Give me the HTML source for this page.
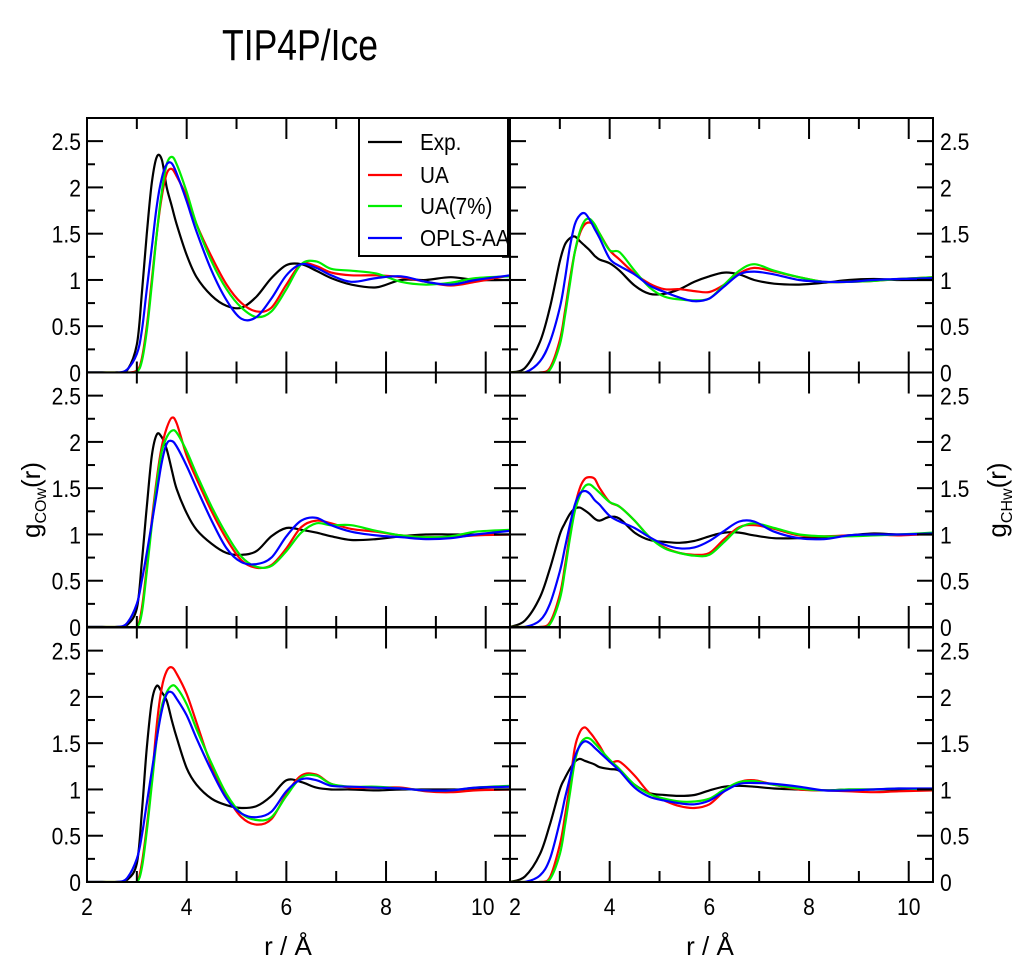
<!DOCTYPE html>
<html><head><meta charset="utf-8">
<style>
html,body{margin:0;padding:0;background:#fff;}
svg{display:block;font-family:"Liberation Sans",sans-serif;}
</style></head>
<body>
<svg id="chart" width="1024" height="968" viewBox="0 0 1024 968">
<text x="222" y="60" font-size="44" textLength="156" lengthAdjust="spacingAndGlyphs">TIP4P/Ice</text>
<text transform="translate(40,500) rotate(-90)" text-anchor="middle" font-size="26">g<tspan font-size="16" dy="6">COw</tspan><tspan dy="-6">(r)</tspan></text>
<text transform="translate(1006,500) rotate(-90)" text-anchor="middle" font-size="26">g<tspan font-size="16" dy="6">CHw</tspan><tspan dy="-6">(r)</tspan></text>
<text x="288" y="955" text-anchor="middle" font-size="26">r / Å</text>
<text x="710" y="955" text-anchor="middle" font-size="26">r / Å</text>
<g id="plots"></g>
<g id="legend"></g>
</svg>
<script>
const rGrid = [2.0,2.3,2.6,2.8,3.0,3.1,3.2,3.3,3.4,3.5,3.6,3.7,3.8,4.0,4.2,4.5,4.8,5.1,5.4,5.7,6.0,6.3,6.6,6.9,7.3,7.8,8.3,8.8,9.3,9.8,10.5];
const seriesNames = ["Exp.","UA","UA(7%)","OPLS-AA"];
const xTicks = [2,4,6,8,10];
const yTicks = [0,0.5,1,1.5,2,2.5];
const yTickLabels = ["0","0.5","1","1.5","2","2.5"];
// top-left (COw row 1)
const a_exp = [0,0,0,0.02,0.3,0.85,1.5,2.05,2.33,2.3,2.0,1.8,1.6,1.27,1.03,0.83,0.72,0.7,0.82,1.02,1.16,1.17,1.1,1.02,0.95,0.92,1.0,1.0,1.03,1.0,1.0];
const a_ua = [0,0,0,0,0.02,0.15,0.5,1.0,1.5,1.9,2.15,2.2,2.12,1.9,1.6,1.25,0.95,0.75,0.66,0.7,0.95,1.17,1.15,1.08,1.05,1.05,1.03,0.98,0.94,0.98,1.05];
const a_ua7 = [0,0,0,0,0.01,0.12,0.45,0.95,1.5,1.95,2.25,2.33,2.25,1.95,1.6,1.2,0.9,0.7,0.6,0.66,0.9,1.17,1.2,1.12,1.1,1.07,0.98,0.95,0.97,1.02,1.04];
const a_opls = [0,0,0,0.03,0.2,0.45,0.9,1.35,1.8,2.1,2.25,2.26,2.15,1.85,1.52,1.1,0.78,0.58,0.6,0.8,1.05,1.17,1.13,1.05,0.98,1.02,1.04,0.98,0.95,1.0,1.05];
// top-right (CHw row 1)
const b_exp = [0,0.05,0.33,0.7,1.2,1.38,1.45,1.47,1.42,1.37,1.32,1.26,1.22,1.18,1.1,0.94,0.85,0.85,0.9,0.98,1.04,1.08,1.06,1.0,0.96,0.95,0.97,1.0,1.01,1.0,1.0];
const b_ua = [0,0,0,0.05,0.35,0.65,1.0,1.3,1.5,1.6,1.62,1.58,1.5,1.32,1.22,1.07,0.96,0.9,0.9,0.88,0.87,0.95,1.07,1.13,1.09,1.03,0.98,0.98,0.99,1.01,1.03];
const b_ua7 = [0,0,0,0.03,0.3,0.6,0.95,1.3,1.52,1.64,1.66,1.6,1.5,1.32,1.3,1.1,0.92,0.82,0.79,0.78,0.8,0.95,1.1,1.17,1.1,1.03,0.98,0.98,0.99,1.01,1.03];
const b_opls = [0,0,0.12,0.33,0.7,1.0,1.35,1.6,1.7,1.72,1.65,1.55,1.45,1.23,1.15,1.06,0.94,0.87,0.81,0.77,0.8,0.93,1.06,1.09,1.06,1.0,0.98,0.98,1.0,1.01,1.02];
// middle-left (COw row 2)
const c_exp = [0,0,0,0.02,0.2,0.7,1.3,1.85,2.08,2.05,1.92,1.7,1.49,1.23,1.05,0.9,0.8,0.78,0.82,0.98,1.07,1.05,1.02,0.98,0.94,0.95,0.98,1.0,1.0,1.0,1.0];
const c_ua = [0,0,0,0,0,0.2,0.65,1.15,1.6,1.95,2.15,2.26,2.2,1.85,1.6,1.25,0.95,0.72,0.64,0.67,0.85,1.08,1.15,1.12,1.06,1.03,0.99,0.97,0.97,0.99,1.0];
const c_ua7 = [0,0,0,0,0,0.15,0.6,1.1,1.55,1.9,2.05,2.12,2.1,1.9,1.65,1.3,1.0,0.76,0.65,0.66,0.82,1.02,1.12,1.1,1.1,1.04,0.99,0.97,0.98,1.03,1.05];
const c_opls = [0,0,0,0.04,0.25,0.5,0.8,1.12,1.45,1.78,1.98,2.01,1.95,1.74,1.5,1.15,0.85,0.7,0.68,0.75,0.98,1.15,1.18,1.1,1.03,0.99,0.97,0.95,0.96,1.0,1.04];
// middle-right (CHw row 2)
const d_exp = [0,0.07,0.32,0.63,1.0,1.12,1.22,1.28,1.29,1.26,1.22,1.17,1.15,1.19,1.17,1.02,0.94,0.92,0.91,0.93,0.98,1.02,1.02,0.99,0.96,0.96,0.97,0.99,1.01,1.0,1.0];
const d_ua = [0,0,0,0.05,0.35,0.65,1.0,1.3,1.5,1.6,1.62,1.6,1.5,1.35,1.3,1.15,0.97,0.86,0.8,0.78,0.8,0.95,1.08,1.1,1.06,0.99,0.98,0.99,1.0,0.99,1.01];
const d_ua7 = [0,0,0,0.03,0.3,0.6,0.95,1.25,1.42,1.52,1.54,1.5,1.45,1.35,1.3,1.15,0.97,0.85,0.8,0.77,0.78,0.92,1.07,1.12,1.07,1.0,0.98,0.98,0.99,1.0,1.02];
const d_opls = [0,0,0.07,0.25,0.6,0.85,1.1,1.32,1.44,1.47,1.44,1.37,1.32,1.2,1.14,1.07,0.97,0.89,0.85,0.86,0.93,1.04,1.14,1.14,1.03,0.96,0.95,0.99,1.0,1.0,1.01];
// bottom-left (COw row 3)
const e_exp = [0,0,0,0.02,0.2,0.75,1.45,1.95,2.12,2.05,1.96,1.75,1.56,1.23,1.05,0.9,0.83,0.8,0.82,0.93,1.1,1.08,1.02,1.0,1.0,0.99,1.0,1.0,1.0,1.0,1.0];
const e_ua = [0,0,0,0,0,0.2,0.6,1.1,1.7,2.1,2.28,2.32,2.25,2.03,1.72,1.25,0.93,0.7,0.62,0.68,0.95,1.15,1.16,1.06,1.02,1.02,1.02,0.98,0.97,0.99,1.0];
const e_ua7 = [0,0,0,0,0,0.15,0.55,1.05,1.55,1.9,2.05,2.12,2.1,1.92,1.65,1.28,0.95,0.74,0.67,0.7,0.93,1.13,1.15,1.06,1.03,1.03,1.01,0.99,0.99,1.02,1.04];
const e_opls = [0,0,0,0.04,0.25,0.5,0.85,1.2,1.55,1.85,2.03,2.05,1.98,1.8,1.55,1.2,0.9,0.74,0.7,0.76,0.98,1.11,1.1,1.04,1.03,1.02,1.01,0.99,0.99,1.02,1.03];
// bottom-right (CHw row 3)
const f_exp = [0,0.06,0.3,0.62,1.0,1.12,1.22,1.3,1.33,1.31,1.29,1.27,1.24,1.22,1.2,1.05,0.96,0.94,0.93,0.94,0.99,1.03,1.04,1.03,1.01,1.0,0.99,1.0,1.0,1.0,1.0];
const f_ua = [0,0,0,0.05,0.4,0.7,1.05,1.45,1.62,1.67,1.62,1.55,1.47,1.3,1.3,1.15,0.96,0.88,0.82,0.8,0.84,0.98,1.08,1.1,1.05,1.0,0.99,0.98,0.97,0.98,0.99];
const f_ua7 = [0,0,0,0.03,0.3,0.6,0.95,1.3,1.48,1.55,1.55,1.5,1.44,1.32,1.22,1.05,0.95,0.9,0.87,0.87,0.9,1.0,1.08,1.09,1.05,1.01,0.99,1.0,1.0,1.01,1.0];
const f_opls = [0,0,0.07,0.25,0.65,0.9,1.12,1.35,1.47,1.52,1.5,1.45,1.4,1.3,1.2,1.02,0.92,0.88,0.85,0.84,0.88,0.98,1.06,1.07,1.06,1.03,0.99,0.99,1.0,1.01,1.01];

const NS = "http://www.w3.org/2000/svg";
const colors = ["#000000","#ff0000","#00ee00","#0000ff"];
const panels = [
  {name:"top-left", col:0,row:0,data:[a_exp,a_ua,a_ua7,a_opls]},
  {name:"top-right",col:1,row:0,data:[b_exp,b_ua,b_ua7,b_opls]},
  {name:"middle-left",col:0,row:1,data:[c_exp,c_ua,c_ua7,c_opls]},
  {name:"middle-right",col:1,row:1,data:[d_exp,d_ua,d_ua7,d_opls]},
  {name:"bottom-left",col:0,row:2,data:[e_exp,e_ua,e_ua7,e_opls]},
  {name:"bottom-right",col:1,row:2,data:[f_exp,f_ua,f_ua7,f_opls]}
];
const PX0 = [87,510], PW = 423, PY0 = [118,372.5,627.5], PH = 254.5;
const XMIN = 2, XMAX = 2 + PW/49.84, YMAX = 2.75;
function mk(tag, attrs, parent){
  const el = document.createElementNS(NS, tag);
  for (const k in attrs) el.setAttribute(k, attrs[k]);
  parent.appendChild(el);
  return el;
}
function smoothPath(pts){
  let d = "M" + pts[0][0].toFixed(1) + "," + pts[0][1].toFixed(1);
  for (let i = 0; i < pts.length - 1; i++){
    const p0 = pts[Math.max(0,i-1)], p1 = pts[i], p2 = pts[i+1], p3 = pts[Math.min(pts.length-1,i+2)];
    const c1x = p1[0] + (p2[0]-p0[0])/6, c1y = p1[1] + (p2[1]-p0[1])/6;
    const c2x = p2[0] - (p3[0]-p1[0])/6, c2y = p2[1] - (p3[1]-p1[1])/6;
    d += " C" + c1x.toFixed(1)+","+c1y.toFixed(1)+" "+c2x.toFixed(1)+","+c2y.toFixed(1)+" "+p2[0].toFixed(1)+","+p2[1].toFixed(1);
  }
  return d;
}
function condText(g, x, y, anchor, str){
  // slightly condensed text like the reference font
  const t = mk("text", {transform:"translate("+x+","+y+") scale(0.88,1)", "font-size":24, "text-anchor":anchor, x:0, y:0}, g);
  t.textContent = str;
  return t;
}
const plots = document.getElementById("plots");
panels.forEach(p => {
  const x0 = PX0[p.col], y0 = PY0[p.row];
  const sx = r => x0 + (r - XMIN) / (XMAX - XMIN) * PW;
  const sy = v => y0 + PH - v / YMAX * PH;
  const g = mk("g", {}, plots);
  
  
  const clipId = "clip-" + p.name;
  const cp = mk("clipPath", {id: clipId}, g);
  mk("rect", {x:x0, y:y0, width:PW, height:PH}, cp);
  p.data.forEach((vals, si) => {
    const pts = rGrid.map((r, i) => [sx(r), sy(vals[i])]);
    const path = mk("path", {d: smoothPath(pts), fill:"none", stroke:colors[si], "stroke-width":2.2, "clip-path":"url(#"+clipId+")"}, g);
    
    
  });
  for (let t = 2; t <= 10; t++){
    const len = (t % 2 === 0) ? 21 : 11;
    const x = sx(t);
    mk("line", {x1:x, y1:y0+PH, x2:x, y2:y0+PH-len, stroke:"#000","stroke-width":2}, g);
    mk("line", {x1:x, y1:y0, x2:x, y2:y0+len, stroke:"#000","stroke-width":2}, g);
  }
  for (let k = 0; k <= 10; k++){
    const v = k * 0.25, y = sy(v);
    const len = (k % 2 === 0) ? 16 : 8;
    mk("line", {x1:x0, y1:y, x2:x0+len, y2:y, stroke:"#000","stroke-width":2}, g);
    mk("line", {x1:x0+PW, y1:y, x2:x0+PW-len, y2:y, stroke:"#000","stroke-width":2}, g);
  }
  const frame = mk("rect", {x:x0, y:y0, width:PW, height:PH, fill:"none", stroke:"#000","stroke-width":2}, g);
  
  
  yTicks.forEach((v, i) => {
    let t;
    if (p.col === 0) t = condText(g, x0 - 6, sy(v) + 9, "end", yTickLabels[i]);
    else t = condText(g, x0 + PW + 7, sy(v) + 9, "start", yTickLabels[i]);
    
    
  });
  if (p.row === 2){
    xTicks.forEach(v => {
      let x = sx(v);
      if (p.col === 0 && v === 10) x -= 3;
      if (p.col === 1 && v === 2) x += 5;
      const t = condText(g, x, y0 + PH + 33, "middle", String(v));
      
      
    });
  }
});
const lg = document.getElementById("legend");
mk("rect", {x:359, y:118, width:149, height:138, fill:"#fff", stroke:"#000", "stroke-width":2}, lg);
const legY = [142,175,206,238];
seriesNames.forEach((n, i) => {
  const e = mk("g", {}, lg);
  
  
  mk("line", {x1:368, y1:legY[i], x2:402, y2:legY[i], stroke:colors[i], "stroke-width":2.2}, e);
  const t = mk("text", {transform:"translate(420,"+(legY[i]+8)+") scale(0.9,1)", x:0, y:0, "font-size":23}, e);
  t.textContent = n;
});
</script>
</body></html>
